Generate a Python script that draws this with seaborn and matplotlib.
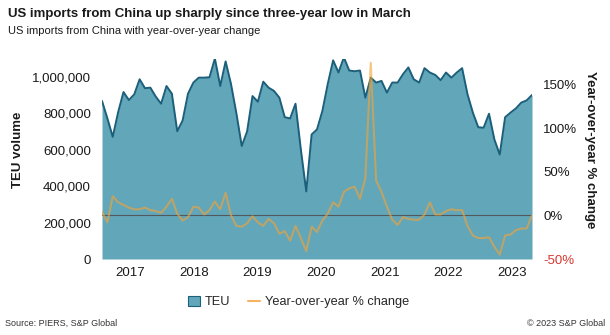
import numpy as np
import pandas as pd
import matplotlib
matplotlib.use("Agg")
import matplotlib.pyplot as plt
import seaborn as sns
from matplotlib.patches import Patch
from matplotlib.lines import Line2D
from matplotlib.ticker import FuncFormatter

# Monthly US imports from China, Jan 2017 - Sep 2023
months = pd.date_range("2017-01-01", "2023-09-01", freq="MS")

teu_thousands = [
    867, 772, 670, 805, 916, 872, 903, 986, 937, 940, 891, 852,      # 2017
    949, 907, 701, 760, 907, 968, 995, 995, 997, 1100, 949, 1084,    # 2018
    960, 800, 620, 700, 894, 863, 973, 940, 922, 885, 778, 771,      # 2019
    852, 600, 371, 683, 711, 812, 960, 1090, 1023, 1106, 1034, 1030, # 2020
    1034, 885, 995, 968, 977, 913, 968, 968, 1014, 1051, 986, 968,   # 2021
    1047, 1023, 1010, 981, 1023, 995, 1023, 1047, 904, 803, 723, 720,# 2022
    797, 656, 573, 778, 803, 826, 858, 870, 900,                     # 2023
]

yoy_pct = [
    4, -8, 22, 15, 12, 9, 7, 7, 9, 6, 5, 3,
    10, 19, 2, -6, -2, 10, 9, 1, 6, 16, 7, 26,
    0, -12, -13, -9, -1, -8, -12, -4, -9, -21, -18, -29,
    -12, -26, -41, -13, -19, -6, 2, 15, 10, 27, 31, 33,
    19, 43, 175, 40, 27, 10, -5, -11, -2, -4, -5, -5,
    1, 15, 1, 1, 5, 7, 6, 6, -12, -23, -26, -26,
    -25, -36, -45, -23, -22, -17, -15, -15, 0,
]

year_labels = ["2017", "2018", "2019", "2020", "2021", "2022", "2023"]
teu_ticks = [0, 200000, 400000, 600000, 800000, 1000000]
yoy_ticks = [-50, 0, 50, 100, 150]

df = pd.DataFrame({
    "month": np.arange(len(months)),
    "teu": np.array(teu_thousands) * 1000,
    "yoy": yoy_pct,
})

FILL = "#62a6b9"
EDGE = "#1b5f7b"
ORANGE = "#f2a33a"
RED = "#d8352f"
TEXT = "#1a1a1a"

sns.set_theme(style="white")
plt.rcParams["font.family"] = ["Liberation Sans", "DejaVu Sans"]

fig = plt.figure(figsize=(6.1, 3.35), dpi=100)
ax = fig.add_axes([102 / 610, 1 - 259 / 335, 430 / 610, 200.5 / 335])

# TEU area with its outline
ax.fill_between(df["month"], 0, df["teu"], color=FILL, lw=0, zorder=1)
sns.lineplot(data=df, x="month", y="teu", ax=ax, color=EDGE, lw=1.4, zorder=2)
ax.set_xlim(0, len(df) - 1)
ax.set_ylim(0, 1.1e6)
ax.set_yticks(teu_ticks)
ax.yaxis.set_major_formatter(FuncFormatter(lambda v, p: f"{v:,.0f}"))

# year labels sit roughly at the middle of each year
ax.set_xticks([5.2 + 11.85 * k for k in range(len(year_labels))])
ax.set_xticklabels(year_labels)
ax.set_xlabel("")
ax.set_ylabel("")

# Year-over-year change on the right axis
ax2 = ax.twinx()
ax2.axhline(0, color="#4d4d4d", lw=0.8, alpha=0.85, zorder=1)
sns.lineplot(data=df, x="month", y="yoy", ax=ax2, color=ORANGE, lw=1.5,
             alpha=0.62, zorder=2)
ax2.set_ylim(-50, 180)
ax2.set_yticks(yoy_ticks)
ax2.set_yticklabels([f"{t}%" for t in yoy_ticks])
ax2.set_ylabel("")

for a in (ax, ax2):
    for s in a.spines.values():
        s.set_visible(False)
    a.tick_params(length=0, labelsize=9.5, colors=TEXT)
ax.tick_params(axis="y", pad=8)
ax.tick_params(axis="x", pad=6)
ax2.tick_params(axis="y", pad=8)
ax2.get_yticklabels()[0].set_color(RED)

# axis titles
fig.text(18 / 610, 1 - 150 / 335, "TEU volume", rotation=90, ha="center",
         va="center", fontsize=9.5, fontweight="bold", color=TEXT)
fig.text(590 / 610, 1 - 150 / 335, "Year-over-year % change", rotation=-90,
         ha="center", va="center", fontsize=9.5, fontweight="bold", color=TEXT)

# headline and subtitle
fig.text(8 / 610, 1 - 16.5 / 335,
         "US imports from China up sharply since three-year low in March",
         ha="left", va="baseline", fontsize=9.5, fontweight="bold", color=TEXT)
fig.text(8 / 610, 1 - 33.5 / 335,
         "US imports from China with year-over-year change",
         ha="left", va="baseline", fontsize=8.0, color=TEXT)

# legend
handles = [
    Patch(facecolor=FILL, edgecolor=EDGE, lw=0.8, label="TEU"),
    Line2D([0], [0], color=ORANGE, lw=1.5, alpha=0.8,
           label="Year-over-year % change"),
]
fig.legend(handles=handles, loc="center", bbox_to_anchor=(0.49, 1 - 302 / 335),
           ncol=2, frameon=False, fontsize=9.2, handlelength=0.9,
           handleheight=0.9, columnspacing=1.4, handletextpad=0.4)

# footer
fig.text(5 / 610, 1 - 326 / 335, "Source: PIERS, S&P Global", ha="left",
         va="baseline", fontsize=6.5, color="#333333")
fig.text(605 / 610, 1 - 326 / 335, "\u00a9 2023 S&P Global", ha="right",
         va="baseline", fontsize=6.5, color="#333333")

fig.savefig("out.png", dpi=100, facecolor="white")
